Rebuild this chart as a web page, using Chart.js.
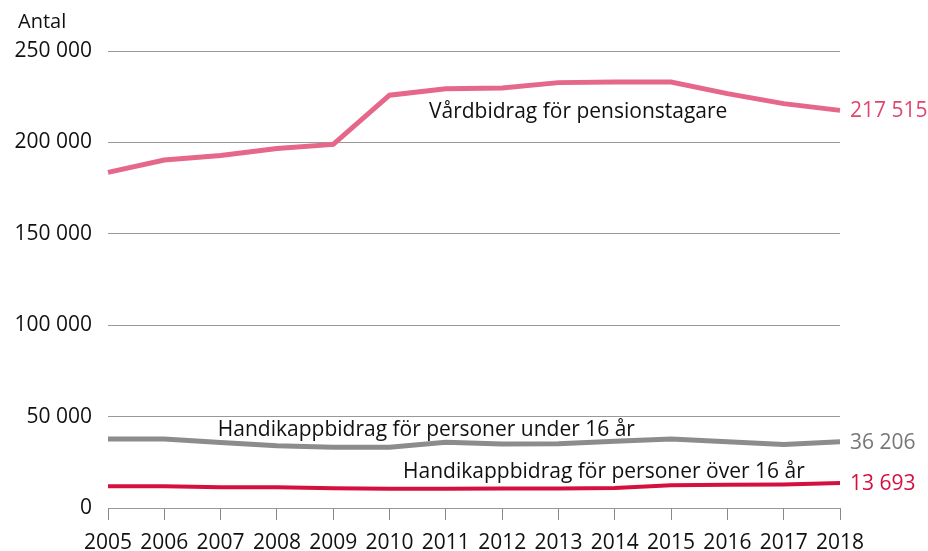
<!DOCTYPE html>
<html>
<head>
<meta charset="utf-8">
<script src="https://cdn.jsdelivr.net/npm/chart.js@4/dist/chart.umd.min.js"></script>
<style>
    html, body { margin: 0; padding: 0; background: #fff; }
    #wrap { width: 928px; height: 551px; position: relative; }
</style>
</head>
<body>
<div id="wrap"><canvas id="chart"></canvas></div>
<script>
// Antal personer med vardbidrag / handikappbidrag 2005-2018
var years = ['2005', '2006', '2007', '2008', '2009', '2010', '2011', '2012', '2013', '2014', '2015', '2016', '2017', '2018'];
var vardbidragPension = [183600, 190400, 192800, 196700, 198900, 225800, 229400, 229800, 232700, 233000, 233000, 226700, 221200, 217515];
var handikappUnder16 = [37800, 37800, 35800, 34100, 33200, 33200, 35900, 35000, 35200, 36500, 37800, 36300, 34700, 36206];
var handikappOver16 = [11900, 11900, 11400, 11300, 10800, 10500, 10500, 10600, 10600, 10900, 12400, 12700, 12900, 13693];
var seriesNames = ['Vårdbidrag för pensionstagare', 'Handikappbidrag för personer under 16 år', 'Handikappbidrag för personer över 16 år'];
var yTicks = [0, 50000, 100000, 150000, 200000, 250000];

var FONT = "'Open Sans', sans-serif";
var colPink = '#e5688a';
var colGray = '#8c8c8c';
var colRed = '#d5103f';

function fmt(v) {
    return String(Math.round(v)).replace(/\B(?=(\d{3})+(?!\d))/g, ' ');
}

// serie-etiketter i diagrammet + slutvarden till hoger
var labelsPlugin = {
    id: 'seriesLabels',
    afterDatasetsDraw: function (chart) {
        var ctx = chart.ctx;
        var x = chart.scales.x;
        var y = chart.scales.y;
        ctx.save();
        ctx.font = '21px ' + FONT;
        ctx.textBaseline = 'middle';

        // namn pa serierna
        ctx.fillStyle = '#111111';
        ctx.textAlign = 'center';
        ctx.fillText(seriesNames[0], x.getPixelForValue(8.35), y.getPixelForValue(216500));
        ctx.textAlign = 'left';
        ctx.fillText(seriesNames[1], x.getPixelForValue(1.95), y.getPixelForValue(42900));
        ctx.fillText(seriesNames[2], x.getPixelForValue(5.24), y.getPixelForValue(19900));

        // slutvarden
        chart.data.datasets.forEach(function (ds) {
            var last = ds.data.length - 1;
            ctx.fillStyle = ds.labelColor;
            ctx.fillText(fmt(ds.data[last]), x.getPixelForValue(last) + 10, y.getPixelForValue(ds.data[last]) + 1);
        });

        // Antal
        ctx.fillStyle = '#111111';
        ctx.font = '20px ' + FONT;
        ctx.fillText('Antal', 18, 22);
        ctx.restore();
    }
};

new Chart(document.getElementById('chart'), {
    type: 'line',
    data: {
        labels: years,
        datasets: [
            {
                label: seriesNames[0],
                data: vardbidragPension,
                borderColor: colPink,
                labelColor: '#e0466f',
                borderWidth: 5,
                pointRadius: 0,
                tension: 0
            },
            {
                label: seriesNames[1],
                data: handikappUnder16,
                borderColor: colGray,
                labelColor: '#777777',
                borderWidth: 5,
                pointRadius: 0,
                tension: 0
            },
            {
                label: seriesNames[2],
                data: handikappOver16,
                borderColor: colRed,
                labelColor: colRed,
                borderWidth: 4,
                pointRadius: 0,
                tension: 0
            }
        ]
    },
    options: {
        responsive: true,
        maintainAspectRatio: false,
        animation: false,
        layout: {
            padding: { top: 51, right: 88, bottom: 0, left: 0 }
        },
        plugins: {
            legend: { display: false },
            tooltip: { enabled: false }
        },
        scales: {
            x: {
                offset: false,
                afterFit: function (scale) { scale.height = 43; },
                grid: {
                    drawOnChartArea: false,
                    drawTicks: true,
                    tickLength: 12,
                    tickColor: '#888888',
                    tickWidth: 1,
                    color: '#999999'
                },
                border: { display: true, color: '#999999' },
                ticks: {
                    color: '#111111',
                    padding: 10,
                    maxRotation: 0,
                    autoSkip: false,
                    font: { size: 21, family: FONT }
                }
            },
            y: {
                min: 0,
                max: 250000,
                afterFit: function (scale) { scale.width = 108; },
                afterBuildTicks: function (scale) {
                    scale.ticks = yTicks.map(function (v) { return { value: v }; });
                },
                grid: {
                    drawTicks: false,
                    color: '#999999'
                },
                border: { display: false },
                ticks: {
                    color: '#111111',
                    padding: 16,
                    font: { size: 21, family: FONT },
                    callback: function (v) { return fmt(v); }
                }
            }
        }
    },
    plugins: [labelsPlugin]
});
</script>
</body>
</html>
